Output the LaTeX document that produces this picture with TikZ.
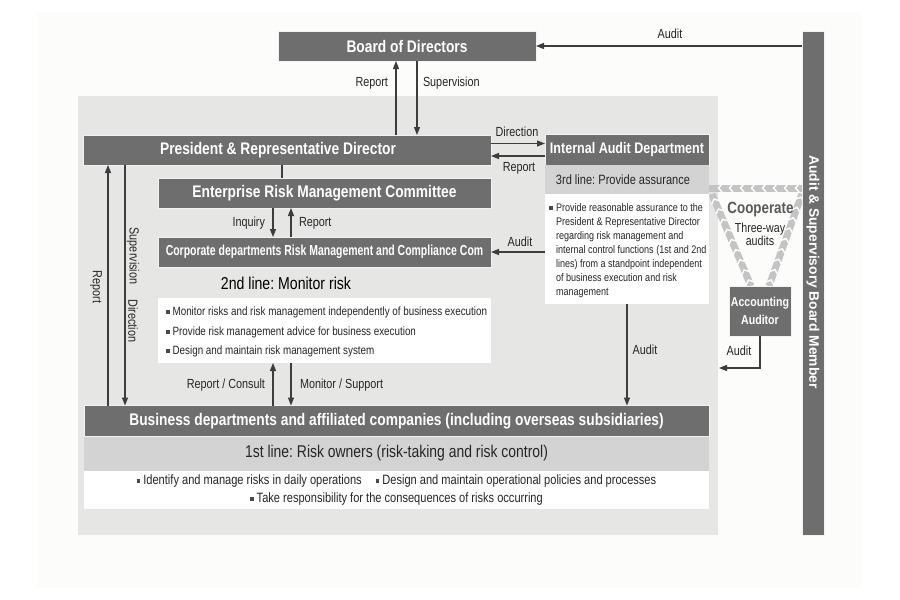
\documentclass[tikz,border=0pt]{standalone}
\usepackage{fontspec}
\setmainfont{Liberation Sans}[FakeStretch=0.82]
\newfontfamily\widef{Liberation Sans}
\usetikzlibrary{arrows.meta,decorations.markings,backgrounds}
\definecolor{boxgray}{HTML}{6E6E6E}
\definecolor{boxedge}{HTML}{F2F2F2}
\definecolor{panelc}{HTML}{E6E6E5}
\definecolor{outerc}{HTML}{FCFCFA}
\definecolor{bandgray}{HTML}{D3D3D3}
\definecolor{arrowc}{HTML}{3D3D3D}
\definecolor{chevgray}{HTML}{C4C4C4}
\definecolor{labc}{HTML}{262626}
\definecolor{bulc}{HTML}{4A4A4A}
\definecolor{coopc}{HTML}{5A5A5A}
\newcommand\setfs[2]{\fontsize{#1}{#2}\selectfont}
\newcommand\sqbul{\textcolor{bulc}{\rule[0.25ex]{3.6pt}{3.6pt}}\hspace{3pt}}
\frenchspacing
\begin{document}
\begin{tikzpicture}[x=1pt,y=-1pt,
  every node/.style={inner sep=0pt, outer sep=0pt},
  dbox/.style={fill=boxgray, draw=boxedge, line width=0.6pt, text=white, font=\bfseries\setfs{16.8}{18}},
  bandbox/.style={fill=bandgray, text=labc},
  wbox/.style={fill=white},
  lbl/.style={text=labc, font=\setfs{13.2}{14}},
  arr/.style={draw=arrowc, line width=1.1pt, -{Triangle[length=8pt,width=6pt]}},
  ln/.style={draw=arrowc, line width=1.1pt},
  chev/.style={draw=chevgray, line width=7pt, postaction={decorate},
    decoration={markings, mark=between positions 5pt and -3pt step 11pt with {\draw[white, line width=1.4pt] (-2pt,4pt) -- (1.5pt,0pt) -- (-2pt,-4pt);}}}]
\frenchspacing
\useasboundingbox (0,0) rectangle (900,600);
\begin{scope}[on background layer]
  \fill[outerc] (37,12) rectangle (862,588);
  \fill[panelc] (78,96) rectangle (718,535);
\end{scope}

% boxes
\node[dbox, minimum width=258, minimum height=30] (board) at (407,46) {Board of Directors};
\node[dbox, minimum width=22, minimum height=504] (bar) at (813,283) {};
\node[text=white, font=\widef\bfseries\setfs{13.8}{15}, rotate=-90] (bartext) at (813,272) {Audit \& Supervisory Board Member};

\node[dbox, minimum width=408, minimum height=30] (pres) at (287,150) {President \& Representative Director\hspace*{18pt}};
\node[dbox, minimum width=333, minimum height=30] (erm) at (324.5,193) {Enterprise Risk Management Committee};
\node[dbox, minimum width=333, minimum height=30, font=\bfseries\setfs{14.5}{16}] (corp) at (324.5,252) {\scalebox{0.88}[1]{Corporate departments Risk Management and Compliance Com}};
\node[text=black, font=\setfs{17.2}{18}] (second) at (286,283) {2nd line: Monitor risk};
\node[wbox, minimum width=333, minimum height=65] (wb2) at (324.5,330.5) {};
\node[lbl, anchor=west, align=left, font=\setfs{12}{19.5}] (wb2t) at (166,332)
  {\sqbul Monitor risks and risk management independently of business execution\\
   \sqbul Provide risk management advice for business execution\\
   \sqbul Design and maintain risk management system};

\node[dbox, minimum width=625, minimum height=31] (biz) at (396.5,421) {Business departments and affiliated companies (including overseas subsidiaries)};
\node[bandbox, minimum width=625, minimum height=34, font=\setfs{17}{18}] (bizband) at (396.5,453.5) {1st line: Risk owners (risk-taking and risk control)};
\node[wbox, minimum width=625, minimum height=38] (bizbody) at (396.5,490) {};
\node[lbl, align=center, font=\setfs{13.5}{18}] (bizbodyt) at (396.5,490)
  {\sqbul Identify and manage risks in daily operations\hspace{14pt}\sqbul Design and maintain operational policies and processes\\
   \sqbul Take responsibility for the consequences of risks occurring};

\node[dbox, minimum width=164, minimum height=31, font=\bfseries\setfs{15.3}{16}] (iad) at (627,149.5) {Internal Audit Department};
\node[bandbox, minimum width=164, minimum height=29, font=\setfs{13.5}{15}] (iadband) at (627,179.5) {3rd line: Provide assurance\hspace*{8pt}};
\node[wbox, minimum width=164, minimum height=110] (iadbody) at (627,249) {};
\node[lbl, anchor=north west, align=left, font=\setfs{11}{14}] (iadt) at (556,203.5)
  {\llap{\sqbul}Provide reasonable assurance to the\\
   President \& Representative Director\\
   regarding risk management and\\
   internal control functions (1st and 2nd\\
   lines) from a standpoint independent\\
   of business execution and risk\\
   management};

\node[dbox, minimum width=62, minimum height=50, align=center, font=\bfseries\setfs{12.9}{18}] (acc) at (760,311) {Accounting\\Auditor};

\node[font=\bfseries\setfs{16.3}{17}, text=coopc] (coop) at (760.5,209) {Cooperate};
\node[lbl, align=center, font=\setfs{13}{13}] (three) at (760,234.5) {Three-way\\audits};

% cooperate chevron bands
\coordinate (cb2) at ([yshift=-8.5pt]iadband.east);
\coordinate (cb1) at (bar.west |- cb2);
\begin{scope}[on background layer]
  \draw[chev] (cb1) -- (cb2);
  \draw[chev] ([xshift=-9pt]acc.north) -- ([xshift=3pt]iadbody.north east);
  \draw[chev] ([xshift=9pt]acc.north) -- (bar.west |- iadbody.north);
\end{scope}

% coordinates for vertical connectors
\coordinate (xa) at (273,0);
\coordinate (xb) at (291,0);
\coordinate (xl1) at (108,0);
\coordinate (xl2) at (125,0);
\coordinate (ya) at (0,252);
\coordinate (accEnd) at (719,368);

% connectors
\draw[arr] (bar.west |- board.east) -- (board.east);
\draw[arr] ([xshift=-11pt]board.south |- pres.north) -- ([xshift=-11pt]board.south);
\draw[arr] ([xshift=10pt]board.south) -- ([xshift=10pt]board.south |- pres.north);
\draw[arr] ([yshift=6.5pt]pres.east) -- ([yshift=6.5pt]pres.east -| iad.west);
\draw[arr] ([yshift=-6pt]pres.east -| iad.west) -- ([yshift=-6pt]pres.east);
\draw[ln] ([xshift=-5pt]pres.south) -- ([xshift=-5pt]pres.south |- erm.north);
\draw[arr] (xa |- erm.south) -- (xa |- corp.north);
\draw[arr] (xb |- corp.north) -- (xb |- erm.south);
\draw[arr] (iadbody.west |- ya) -- (corp.east |- ya);
\draw[arr] (xa |- biz.north) -- (xa |- wb2.south);
\draw[arr] (xb |- wb2.south) -- (xb |- biz.north);
\draw[arr] (xl1 |- biz.north) -- (xl1 |- pres.south);
\draw[arr] (xl2 |- pres.south) -- (xl2 |- biz.north);
\draw[arr] (iadbody.south) -- (iadbody.south |- biz.north);
\draw[arr] (acc.south) |- (accEnd);

% labels
\node[lbl] (lAuditTop) at (670,34) {Audit};
\node[lbl, anchor=east] (lRepB) at (388,83) {Report};
\node[lbl, anchor=west] (lSupB) at (423,83) {Supervision};
\node[lbl] (lDir) at (517,132) {Direction};
\node[lbl] (lRepI) at (519,168) {Report};
\node[lbl, anchor=east] (lInq) at (265,223) {Inquiry};
\node[lbl, anchor=west] (lRepE) at (299,223) {Report};
\node[lbl] (lAudC) at (520,242) {Audit};
\node[lbl, anchor=east] (lRC) at (265,385) {Report / Consult};
\node[lbl, anchor=west] (lMS) at (300,385) {Monitor / Support};
\node[lbl, rotate=-90] (lRepL) at (96,287) {Report};
\node[lbl, rotate=-90] (lSupL) at (133,256) {Supervision};
\node[lbl, rotate=-90] (lDirL) at (133,321) {Direction};
\node[lbl] (lAudI) at (645,350) {Audit};
\node[lbl] (lAudA) at (739,351) {Audit};
\end{tikzpicture}
\end{document}
